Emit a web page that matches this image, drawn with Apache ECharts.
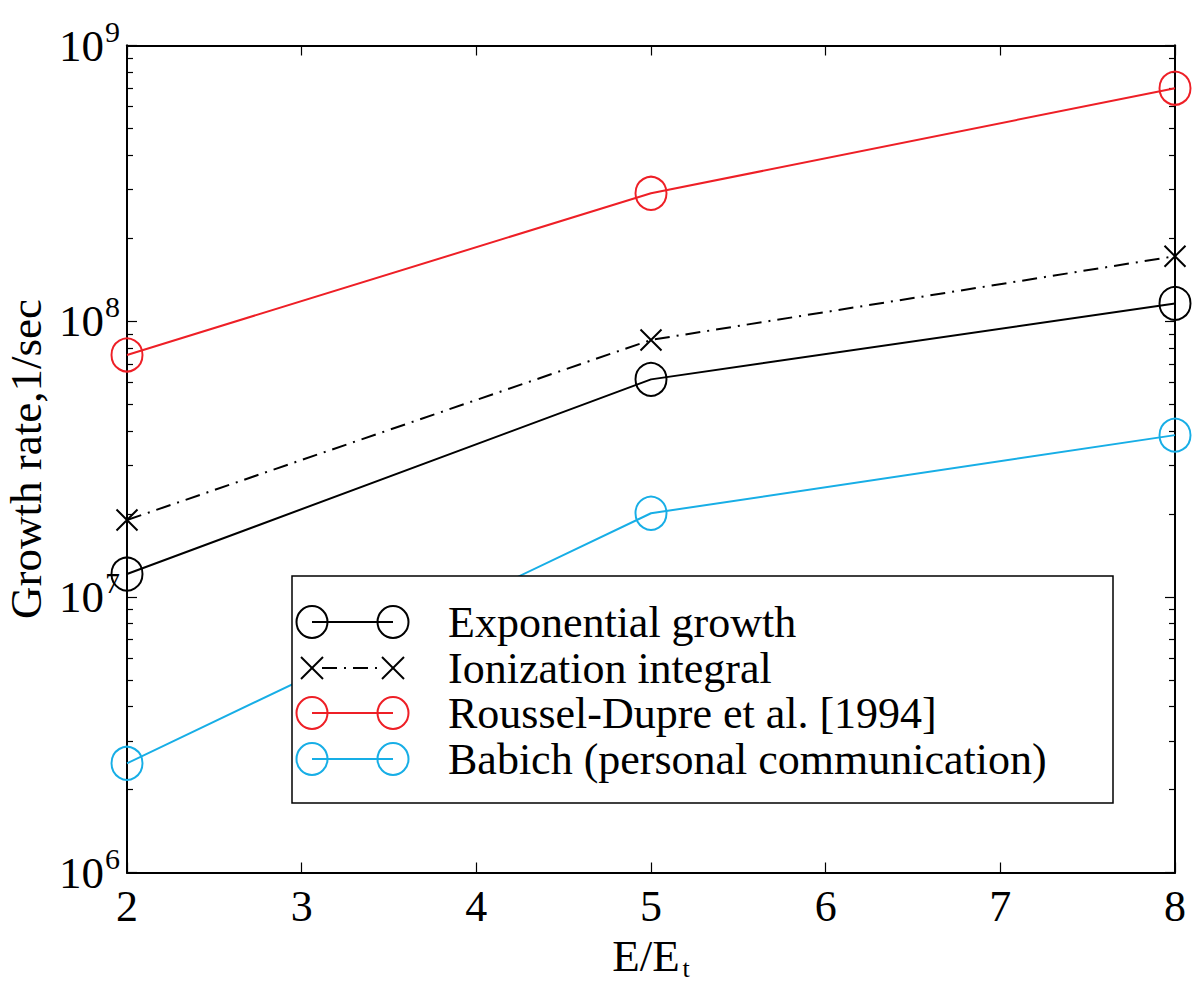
<!DOCTYPE html>
<html>
<head>
<meta charset="utf-8">
<title>Growth rate vs E/Et</title>
<script src="https://cdn.jsdelivr.net/npm/echarts@6/dist/echarts.min.js"></script>
<style>
  html, body { margin: 0; padding: 0; background: #fff; }
  #chart { width: 1193px; height: 985px; }
</style>
</head>
<body>
<div id="chart"></div>
<script>
// Field ratio E/Et
const fieldRatio = [2, 5, 8];

// Growth rates, 1/sec
const exponentialGrowth = [1.21e7, 6.15e7, 1.16e8];
const ionizationIntegral = [1.90e7, 8.55e7, 1.72e8];
const rousselDupre1994 = [7.54e7, 2.91e8, 7.0e8];
const babichPersonal = [2.49e6, 2.01e7, 3.86e7];

// Axis ticks
const xTickValues = [2, 3, 4, 5, 6, 7, 8];
const yDecadeExponents = [6, 7, 8, 9];

const legendNames = [
  'Exponential growth',
  'Ionization integral',
  'Roussel-Dupre et al. [1994]',
  'Babich (personal communication)'
];

const RED = '#ee1f26';
const BLUE = '#17aee6';
const FONT = 'Liberation Serif, Times New Roman, serif';

const yMajor = yDecadeExponents.map(e => Math.pow(10, e));
const yMinor = [];
for (let e = yDecadeExponents[0]; e < yDecadeExponents[yDecadeExponents.length - 1]; e++) {
  for (let k = 2; k <= 9; k++) yMinor.push(k * Math.pow(10, e));
}

const pairs = ys => fieldRatio.map((x, i) => [x, ys[i]]);

const X_MARK = 'path://M0,0L10,10M10,0L0,10';

function yAxisBase(position, withLabels, ticks, tickLen) {
  return {
    type: 'log',
    logBase: 10,
    min: 1e6,
    max: 1e9,
    position: position,
    axisLine: { show: true, onZero: false, lineStyle: { color: '#000', width: 2 } },
    axisTick: { show: true, inside: true, length: tickLen, customValues: ticks, lineStyle: { color: '#000', width: 1.2 } },
    axisLabel: withLabels ? {
      show: true,
      customValues: yMajor,
      margin: 7,
      formatter: v => '{b|10}{s|' + Math.round(Math.log10(v)) + '}',
      rich: {
        b: { fontFamily: FONT, fontSize: 45, color: '#000', verticalAlign: 'bottom', lineHeight: 45 },
        s: { fontFamily: FONT, fontSize: 30, color: '#000', verticalAlign: 'bottom', lineHeight: 30, padding: [0, 0, 22, 1] }
      }
    } : { show: false },
    splitLine: { show: false },
    minorTick: { show: false },
    minorSplitLine: { show: false }
  };
}

const chart = echarts.init(document.getElementById('chart'), null, { renderer: 'svg' });

// Legend panel: boxed, with line-marker-line samples
const rowY = [622, 668, 713, 759];
const legendGraphics = [{
  type: 'rect',
  shape: { x: 292, y: 576, width: 821, height: 227 },
  style: { fill: '#fff', stroke: '#000', lineWidth: 1.5 },
  z: 100
}];
const legendStyles = [
  { color: '#000', dash: null, mark: 'circle' },
  { color: '#000', dash: [15, 7, 2, 7], mark: 'x' },
  { color: RED, dash: null, mark: 'circle' },
  { color: BLUE, dash: null, mark: 'circle' }
];
legendStyles.forEach((s, i) => {
  const y = rowY[i];
  const x1 = 312, x2 = 393;
  if (s.mark === 'circle') {
    legendGraphics.push({ type: 'line', shape: { x1: x1, y1: y, x2: x2, y2: y }, style: { stroke: s.color, lineWidth: 2 }, z: 101 });
    [x1, x2].forEach(cx => legendGraphics.push({
      type: 'ellipse', shape: { cx: cx, cy: y, rx: 15.5, ry: 16 },
      style: { fill: null, stroke: s.color, lineWidth: 2 }, z: 102
    }));
  } else {
    legendGraphics.push({ type: 'line', shape: { x1: x1 + 10, y1: y, x2: x2 - 10, y2: y }, style: { stroke: s.color, lineWidth: 2, lineDash: s.dash }, z: 101 });
    [x1, x2].forEach(cx => legendGraphics.push({
      type: 'polyline', shape: { points: [[cx - 11, y - 11], [cx + 11, y + 11]] }, style: { stroke: s.color, lineWidth: 2, fill: null }, z: 102
    }, {
      type: 'polyline', shape: { points: [[cx + 11, y - 11], [cx - 11, y + 11]] }, style: { stroke: s.color, lineWidth: 2, fill: null }, z: 102
    }));
  }
  legendGraphics.push({
    type: 'text', x: 448, y: y,
    style: { text: legendNames[i], fontFamily: FONT, fontSize: 44, fill: '#000', verticalAlign: 'middle', align: 'left' },
    z: 102
  });
});

function lineSeries(name, data, color, symbol, size, dash) {
  return {
    name: name,
    type: 'line',
    xAxisIndex: 0,
    yAxisIndex: 0,
    data: pairs(data),
    symbol: symbol,
    symbolSize: size,
    showSymbol: true,
    clip: false,
    lineStyle: { color: color, width: 2, type: dash || 'solid' },
    itemStyle: { color: 'transparent', borderColor: color, borderWidth: 2 },
    emphasis: { disabled: true },
    animation: false
  };
}

chart.setOption({
  animation: false,
  backgroundColor: '#fff',
  grid: { left: 127, right: 18, top: 45.5, bottom: 112.5, containLabel: false, outerBoundsMode: 'none' },
  xAxis: [{
    type: 'value',
    min: 2,
    max: 8,
    interval: 1,
    position: 'bottom',
    name: '{a|E/E}{t|t}',
    nameLocation: 'middle',
    nameGap: 47,
    nameTextStyle: {
      rich: {
        a: { fontFamily: FONT, fontSize: 45, color: '#000', verticalAlign: 'top', lineHeight: 45 },
        t: { fontFamily: FONT, fontSize: 26, color: '#000', verticalAlign: 'top', lineHeight: 26, padding: [22, 0, 0, 3] }
      }
    },
    axisLine: { show: true, onZero: false, lineStyle: { color: '#000', width: 2 } },
    axisTick: { show: true, inside: true, length: 10, customValues: xTickValues, lineStyle: { color: '#000', width: 1.2 } },
    axisLabel: { show: true, margin: 12, customValues: xTickValues, fontFamily: FONT, fontSize: 44, color: '#000' },
    splitLine: { show: false }
  }, {
    type: 'value',
    min: 2,
    max: 8,
    interval: 1,
    position: 'top',
    axisLine: { show: true, onZero: false, lineStyle: { color: '#000', width: 2 } },
    axisTick: { show: true, inside: true, length: 10, customValues: xTickValues, lineStyle: { color: '#000', width: 1.2 } },
    axisLabel: { show: false },
    splitLine: { show: false }
  }],
  yAxis: [
    Object.assign(yAxisBase('left', true, yMajor, 10), {
      name: 'Growth rate,1/sec',
      nameLocation: 'middle',
      nameRotate: 90,
      nameGap: 69,
      nameTextStyle: { fontFamily: FONT, fontSize: 45, color: '#000' }
    }),
    yAxisBase('left', false, yMinor, 6),
    yAxisBase('right', false, yMajor, 10),
    yAxisBase('right', false, yMinor, 6)
  ],
  series: [
    lineSeries(legendNames[0], exponentialGrowth, '#000', 'circle', [31, 33]),
    lineSeries(legendNames[1], ionizationIntegral, '#000', X_MARK, [21, 21], [15, 7, 2, 7]),
    lineSeries(legendNames[2], rousselDupre1994, RED, 'circle', [31, 33]),
    lineSeries(legendNames[3], babichPersonal, BLUE, 'circle', [31, 33])
  ],
  graphic: legendGraphics
});
</script>
</body>
</html>
